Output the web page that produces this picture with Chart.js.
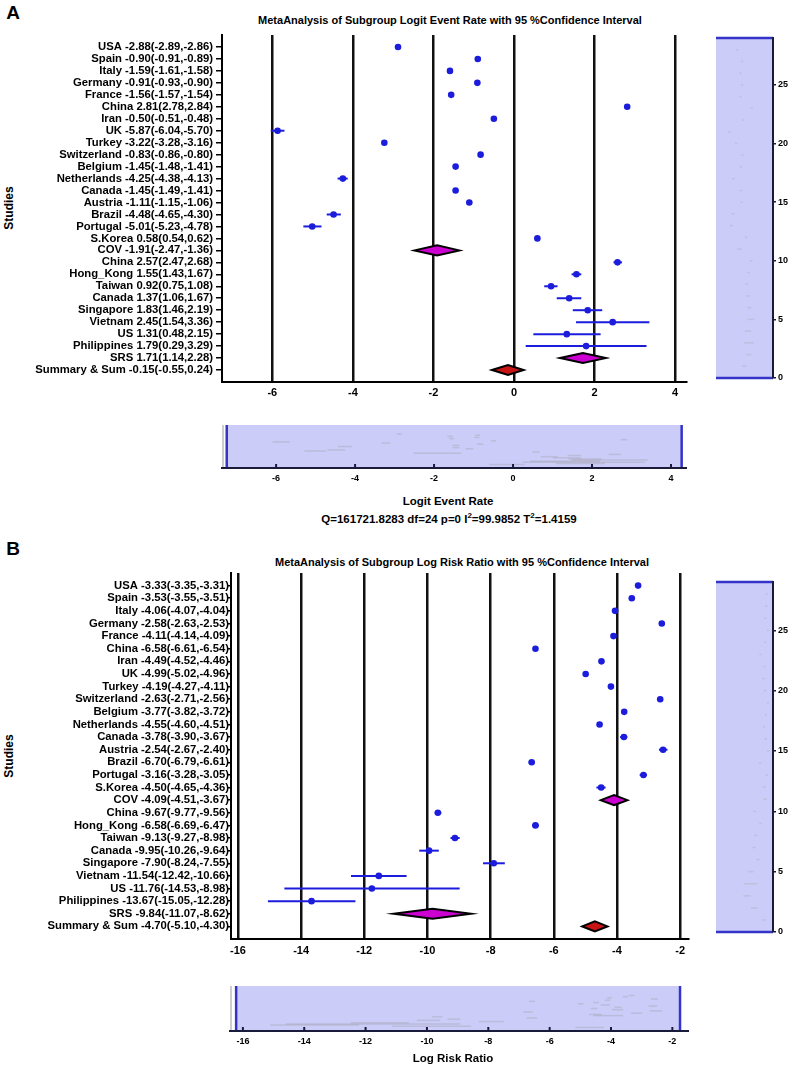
<!DOCTYPE html>
<html>
<head>
<meta charset="utf-8">
<script src="https://cdn.jsdelivr.net/npm/chart.js@4.4.0/dist/chart.umd.min.js"></script>
<style>
  body { margin: 0; background: #fff; }
  #page { position: relative; width: 790px; height: 1068px; font-family: "Liberation Sans", Arial, sans-serif; font-weight: bold; color: #000; }
  #page canvas { position: absolute; }
  .txt { position: absolute; transform: translate(-50%, -50%); white-space: nowrap; line-height: 1; }
  .rot { transform: translate(-50%, -50%) rotate(-90deg); }
</style>
</head>
<body>
<div id="page">
  <div class="txt" style="left:13px;top:12px;font-size:19px">A</div>
  <div class="txt" style="left:450px;top:20px;font-size:11px">MetaAnalysis of Subgroup Logit Event Rate with 95 %Confidence Interval</div>
  <div class="txt rot" style="left:9px;top:208px;font-size:12px">Studies</div>
  <canvas id="forestA" width="700" height="400" style="left:0;top:0"></canvas>
  <canvas id="sideA" width="90" height="400" style="left:700px;top:0"></canvas>
  <canvas id="navA" width="500" height="80" style="left:200px;top:415px"></canvas>
  <div class="txt" style="left:448px;top:502px;font-size:11.5px">Logit Event Rate</div>
  <div class="txt" style="left:449px;top:519px;font-size:11.5px">Q=161721.8283 df=24 p=0 I<sup style="font-size:8px">2</sup>=99.9852 T<sup style="font-size:8px">2</sup>=1.4159</div>

  <div class="txt" style="left:13px;top:548px;font-size:19px">B</div>
  <div class="txt" style="left:462px;top:562px;font-size:11px">MetaAnalysis of Subgroup Log Risk Ratio with 95 %Confidence Interval</div>
  <div class="txt rot" style="left:9px;top:756px;font-size:12px">Studies</div>
  <canvas id="forestB" width="700" height="410" style="left:0;top:550px"></canvas>
  <canvas id="sideB" width="90" height="410" style="left:700px;top:550px"></canvas>
  <canvas id="navB" width="500" height="80" style="left:200px;top:976px"></canvas>
  <div class="txt" style="left:453px;top:1059px;font-size:11.5px">Log Risk Ratio</div>
</div>

<script>
// Data
const studyNames = ['USA', 'Spain', 'Italy', 'Germany', 'France', 'China', 'Iran', 'UK', 'Turkey', 'Switzerland',
  'Belgium', 'Netherlands', 'Canada', 'Austria', 'Brazil', 'Portugal', 'S.Korea', 'COV', 'China', 'Hong_Kong',
  'Taiwan', 'Canada', 'Singapore', 'Vietnam', 'US', 'Philippines', 'SRS', 'Summary & Sum'];
const rowKind = ['study', 'study', 'study', 'study', 'study', 'study', 'study', 'study', 'study', 'study',
  'study', 'study', 'study', 'study', 'study', 'study', 'study', 'subtotal', 'study', 'study',
  'study', 'study', 'study', 'study', 'study', 'study', 'subtotal', 'summary'];

const logitEst = [-2.88, -0.90, -1.59, -0.91, -1.56, 2.81, -0.50, -5.87, -3.22, -0.83, -1.45, -4.25, -1.45, -1.11,
  -4.48, -5.01, 0.58, -1.91, 2.57, 1.55, 0.92, 1.37, 1.83, 2.45, 1.31, 1.79, 1.71, -0.15];
const logitLow = [-2.89, -0.91, -1.61, -0.93, -1.57, 2.78, -0.51, -6.04, -3.28, -0.86, -1.48, -4.38, -1.49, -1.15,
  -4.65, -5.23, 0.54, -2.47, 2.47, 1.43, 0.75, 1.06, 1.46, 1.54, 0.48, 0.29, 1.14, -0.55];
const logitHigh = [-2.86, -0.89, -1.58, -0.90, -1.54, 2.84, -0.48, -5.70, -3.16, -0.80, -1.41, -4.13, -1.41, -1.06,
  -4.30, -4.78, 0.62, -1.36, 2.68, 1.67, 1.08, 1.67, 2.19, 3.36, 2.15, 3.29, 2.28, 0.24];

const lrrEst = [-3.33, -3.53, -4.06, -2.58, -4.11, -6.58, -4.49, -4.99, -4.19, -2.63, -3.77, -4.55, -3.78, -2.54,
  -6.70, -3.16, -4.50, -4.09, -9.67, -6.58, -9.13, -9.95, -7.90, -11.54, -11.76, -13.67, -9.84, -4.70];
const lrrLow = [-3.35, -3.55, -4.07, -2.63, -4.14, -6.61, -4.52, -5.02, -4.27, -2.71, -3.82, -4.60, -3.90, -2.67,
  -6.79, -3.28, -4.65, -4.51, -9.77, -6.69, -9.27, -10.26, -8.24, -12.42, -14.53, -15.05, -11.07, -5.10];
const lrrHigh = [-3.31, -3.51, -4.04, -2.53, -4.09, -6.54, -4.46, -4.96, -4.11, -2.56, -3.72, -4.51, -3.67, -2.40,
  -6.61, -3.05, -4.36, -3.67, -9.56, -6.47, -8.98, -9.64, -7.55, -10.66, -8.98, -12.28, -8.62, -4.30];

const logitTicks = [-6, -4, -2, 0, 2, 4];
const lrrTicks = [-16, -14, -12, -10, -8, -6, -4, -2];
const rowTicks = [0, 5, 10, 15, 20, 25];

// Colours
const BLUE = '#1c1cdc';
const SUB_FILL = '#cc00d0';
const SUM_FILL = '#c81414';
const NAV_FILL = '#ccccf9';
const NAV_BLUE = '#3434c8';
const NAV_AXIS = '#1a1a3a';

Chart.defaults.font.family = '"Liberation Sans", Arial, sans-serif';
Chart.defaults.font.weight = 'bold';
Chart.defaults.color = '#000';

const rowCount = studyNames.length;
const rowOf = i => rowCount - i;   // first study on top, summary at row 1

function rowLabels(est, low, high) {
  return studyNames.map((n, i) => `${n} ${est[i].toFixed(2)}(${low[i].toFixed(2)},${high[i].toFixed(2)})`);
}

// error bars + diamonds
function forestPlugin(est, low, high) {
  return {
    id: 'forest',
    beforeDatasetsDraw(chart) {
      const { ctx } = chart, x = chart.scales.x, y = chart.scales.y;
      ctx.save();
      ctx.strokeStyle = BLUE;
      ctx.lineWidth = 2;
      est.forEach((e, i) => {
        if (rowKind[i] !== 'study') return;
        const py = y.getPixelForValue(rowOf(i));
        ctx.beginPath();
        ctx.moveTo(x.getPixelForValue(low[i]), py);
        ctx.lineTo(x.getPixelForValue(high[i]), py);
        ctx.stroke();
      });
      ctx.restore();
    },
    afterDatasetsDraw(chart) {
      const { ctx } = chart, x = chart.scales.x, y = chart.scales.y;
      ctx.save();
      ctx.strokeStyle = '#000';
      ctx.lineWidth = 2;
      est.forEach((e, i) => {
        if (rowKind[i] === 'study') return;
        const py = y.getPixelForValue(rowOf(i));
        const h = 5;
        ctx.beginPath();
        ctx.moveTo(x.getPixelForValue(low[i]), py);
        ctx.lineTo(x.getPixelForValue(e), py - h);
        ctx.lineTo(x.getPixelForValue(high[i]), py);
        ctx.lineTo(x.getPixelForValue(e), py + h);
        ctx.closePath();
        ctx.fillStyle = rowKind[i] === 'summary' ? SUM_FILL : SUB_FILL;
        ctx.fill();
        ctx.stroke();
      });
      ctx.restore();
    }
  };
}

function makeForest(id, est, low, high, o) {
  const labels = rowLabels(est, low, high);
  const points = [];
  est.forEach((e, i) => { if (rowKind[i] === 'study') points.push({ x: e, y: rowOf(i) }); });

  return new Chart(document.getElementById(id), {
    type: 'scatter',
    data: {
      datasets: [{
        data: points,
        pointRadius: 3.3,
        pointBackgroundColor: BLUE,
        pointBorderWidth: 0
      }]
    },
    plugins: [forestPlugin(est, low, high)],
    options: {
      responsive: false,
      animation: false,
      devicePixelRatio: 1,
      layout: { padding: { top: o.padTop, right: o.padRight, left: 0, bottom: 0 } },
      plugins: { legend: { display: false }, tooltip: { enabled: false } },
      scales: {
        x: {
          min: o.xMin,
          max: o.xMax,
          afterBuildTicks: s => { s.ticks = o.ticks.map(v => ({ value: v })); },
          afterFit: s => { s.height = o.xHeight; },
          grid: { color: '#111', lineWidth: 2.5, drawTicks: false },
          border: { display: true, color: '#000', width: 2 },
          ticks: { font: { size: 11, weight: 'bold' }, padding: o.xPad, color: '#000' }
        },
        y: {
          min: 0,
          max: rowCount + 1,
          afterBuildTicks: s => { s.ticks = labels.map((l, i) => ({ value: rowOf(i) })); },
          afterFit: s => { s.width = o.yWidth; },
          grid: { drawOnChartArea: false, drawTicks: true, tickLength: o.tickLen, color: '#000', lineWidth: 1.5 },
          border: { display: true, color: '#000', width: 2 },
          ticks: {
            autoSkip: false,
            padding: o.tickPad,
            font: { size: 11.3, weight: 'bold' },
            color: '#000',
            callback: v => labels[rowCount - v]
          }
        }
      }
    }
  });
}

// right-hand overview strip
function sidePlugin(est, low, high) {
  return {
    id: 'side',
    beforeDraw(chart) {
      const { ctx, chartArea: a } = chart, x = chart.scales.x, y = chart.scales.y;
      ctx.save();
      ctx.fillStyle = NAV_FILL;
      ctx.fillRect(a.left, a.top, a.right - a.left, a.bottom - a.top);
      ctx.strokeStyle = 'rgba(150,150,150,0.25)';
      ctx.lineWidth = 1.5;
      est.forEach((e, i) => {
        const py = y.getPixelForValue(rowOf(i));
        ctx.beginPath();
        ctx.moveTo(x.getPixelForValue(low[i]) - 1, py);
        ctx.lineTo(x.getPixelForValue(high[i]) + 1, py);
        ctx.stroke();
      });
      ctx.strokeStyle = NAV_BLUE;
      ctx.lineWidth = 2.5;
      [y.min, y.max].forEach(v => {
        const py = y.getPixelForValue(v);
        ctx.beginPath();
        ctx.moveTo(a.left, py);
        ctx.lineTo(a.right, py);
        ctx.stroke();
      });
      ctx.restore();
    }
  };
}

function makeSide(id, est, low, high, o) {
  return new Chart(document.getElementById(id), {
    type: 'scatter',
    data: { datasets: [{ data: [] }] },
    plugins: [sidePlugin(est, low, high)],
    options: {
      responsive: false,
      animation: false,
      devicePixelRatio: 1,
      layout: { padding: { top: o.padTop, bottom: o.padBottom, left: 16, right: 0 } },
      plugins: { legend: { display: false }, tooltip: { enabled: false } },
      scales: {
        x: { display: false, min: o.xMin, max: o.xMax },
        y: {
          position: 'right',
          min: 0,
          max: rowCount + 1,
          afterBuildTicks: s => { s.ticks = rowTicks.map(v => ({ value: v })); },
          afterFit: s => { s.width = 17; },
          grid: { drawOnChartArea: false, tickLength: 3, color: NAV_AXIS, lineWidth: 1.5 },
          border: { display: true, color: NAV_AXIS, width: 2 },
          ticks: { font: { size: 9, weight: 'bold' }, padding: 2, color: '#000' }
        }
      }
    }
  });
}

// bottom overview strip
function navPlugin(est, low, high, selMin, selMax) {
  return {
    id: 'nav',
    beforeDraw(chart) {
      const { ctx, chartArea: a } = chart, x = chart.scales.x, y = chart.scales.y;
      const x0 = x.getPixelForValue(selMin), x1 = x.getPixelForValue(selMax);
      ctx.save();
      ctx.fillStyle = NAV_FILL;
      ctx.fillRect(x0, a.top, x1 - x0, a.bottom - a.top);
      ctx.strokeStyle = 'rgba(150,150,150,0.3)';
      ctx.lineWidth = 1.5;
      est.forEach((e, i) => {
        const py = y.getPixelForValue(rowOf(i));
        ctx.beginPath();
        ctx.moveTo(x.getPixelForValue(low[i]) - 2, py);
        ctx.lineTo(x.getPixelForValue(high[i]) + 2, py);
        ctx.stroke();
      });
      ctx.strokeStyle = '#bdbdbd';
      ctx.lineWidth = 1.5;
      ctx.beginPath();
      ctx.moveTo(a.left + 1, a.top);
      ctx.lineTo(a.left + 1, a.bottom);
      ctx.stroke();
      ctx.strokeStyle = NAV_BLUE;
      ctx.lineWidth = 2.5;
      [x0, x1].forEach(px => {
        ctx.beginPath();
        ctx.moveTo(px, a.top);
        ctx.lineTo(px, a.bottom);
        ctx.stroke();
      });
      ctx.restore();
    },
    afterDraw(chart) {
      const { ctx, chartArea: a } = chart, x = chart.scales.x;
      ctx.save();
      ctx.strokeStyle = NAV_AXIS;
      ctx.lineWidth = 2;
      x.ticks.forEach(t => {
        const px = x.getPixelForValue(t.value);
        ctx.beginPath();
        ctx.moveTo(px, a.bottom);
        ctx.lineTo(px, a.bottom - 4);
        ctx.stroke();
      });
      ctx.restore();
    }
  };
}

function makeNav(id, est, low, high, o) {
  return new Chart(document.getElementById(id), {
    type: 'scatter',
    data: { datasets: [{ data: [] }] },
    plugins: [navPlugin(est, low, high, o.selMin, o.selMax)],
    options: {
      responsive: false,
      animation: false,
      devicePixelRatio: 1,
      layout: { padding: { top: 10, bottom: 0, left: o.padLeft, right: o.padRight } },
      plugins: { legend: { display: false }, tooltip: { enabled: false } },
      scales: {
        x: {
          min: o.xMin,
          max: o.xMax,
          afterBuildTicks: s => { s.ticks = o.ticks.map(v => ({ value: v })); },
          afterFit: s => { s.height = o.xHeight; },
          grid: { display: false, drawTicks: false, tickLength: 0 },
          border: { display: true, color: NAV_AXIS, width: 2 },
          ticks: { font: { size: 9, weight: 'bold' }, padding: 5, color: '#000' }
        },
        y: { display: false, min: -2, max: 36 }
      }
    }
  });
}

// Panel A
makeForest('forestA', logitEst, logitLow, logitHigh, {
  xMin: -7.25, xMax: 4.27, ticks: logitTicks,
  padTop: 35, padRight: 14, xHeight: 18, xPad: 4,
  yWidth: 222, tickLen: 6, tickPad: 3
});
makeSide('sideA', logitEst, logitLow, logitHigh, { padTop: 38, padBottom: 22, xMin: -11, xMax: 11 });
makeNav('navA', logitEst, logitLow, logitHigh, {
  xMin: -7.37, xMax: 4.38, selMin: -7.25, selMax: 4.27, ticks: logitTicks,
  padLeft: 22, padRight: 14, xHeight: 27
});

// Panel B
makeForest('forestB', lrrEst, lrrLow, lrrHigh, {
  xMin: -16.22, xMax: -1.75, ticks: lrrTicks,
  padTop: 23, padRight: 12, xHeight: 21, xPad: 5,
  yWidth: 231, tickLen: 4, tickPad: -2
});
makeSide('sideB', lrrEst, lrrLow, lrrHigh, { padTop: 32, padBottom: 28, xMin: -30, xMax: 0 });
makeNav('navB', lrrEst, lrrLow, lrrHigh, {
  xMin: -16.42, xMax: -1.49, selMin: -16.22, selMax: -1.75, ticks: lrrTicks,
  padLeft: 30, padRight: 12, xHeight: 25
});
</script>
</body>
</html>
